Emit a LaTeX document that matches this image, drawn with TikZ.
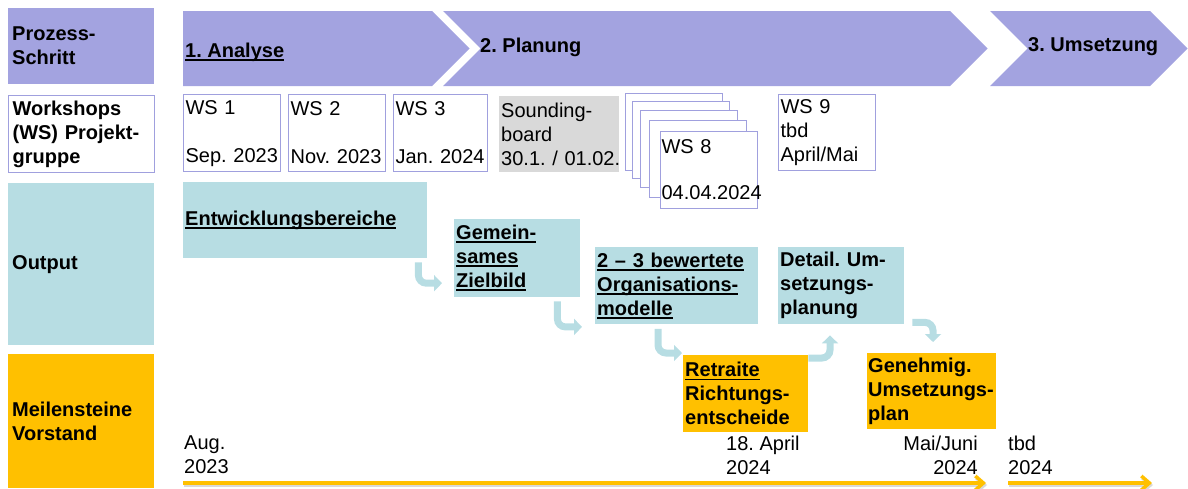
\documentclass[tikz,border=0pt]{standalone}
\usepackage{fontspec}
\setmainfont{Liberation Sans}
\usetikzlibrary{arrows.meta}
\definecolor{phase}{RGB}{163,163,224}
\definecolor{outp}{RGB}{183,221,227}
\definecolor{gold}{RGB}{255,192,0}
\definecolor{sbgray}{RGB}{217,217,217}
\definecolor{wsline}{RGB}{160,160,222}
\newcommand{\undl}[1]{\leavevmode\setbox0=\hbox{#1}\rlap{\rule[-3.5pt]{\wd0}{1.8pt}}\box0}
\frenchspacing
\begin{document}
\begin{tikzpicture}[x=1pt,y=-1pt,font=\fontsize{20}{24}\selectfont,
    conn/.style={outp,line width=7pt,rounded corners=8pt,-{Triangle[length=8pt,width=16pt]}},
    timeline/.style={gold,line width=3.5pt,-{Straight Barb[length=8pt,width=14pt]}},
    wsbox/.style={draw=wsline,line width=1.2pt,fill=white,minimum width=97pt,minimum height=77pt,text width=93pt}]

      \useasboundingbox (0,0) rectangle (1188,488);

      \begin{scope}[every node/.style={anchor=north west,inner sep=4pt,align=left,
          font=\fontsize{20}{24}\selectfont\bfseries,text width=138pt,minimum width=146pt}]
        \node[fill=phase,minimum height=76pt] (prozess) at (8,8) {Prozess-\\Schritt};
        \node[draw=wsline,line width=1.2pt,fill=white,minimum height=77pt] (workshops) at (8,95) {Workshops\\(WS) Projekt-\\gruppe};
        \node[fill=outp,minimum height=162pt] (output) at (8,183) {Output};
        \node[fill=gold,minimum height=134pt] (meilen) at (8,354) {Meilensteine\\Vorstand};
      \end{scope}

      \fill[phase] (183,11) -- (432,11) -- (469.5,48.5) -- (432,86) -- (183,86) -- cycle;
      \fill[phase] (443,11) -- (950,11) -- (987.5,48.5) -- (950,86) -- (443,86) -- (480.5,48.5) -- cycle;
      \fill[phase] (990,11) -- (1150,11) -- (1187.5,48.5) -- (1150,86) -- (990,86) -- (1027.5,48.5) -- cycle;

      \begin{scope}[every node/.style={anchor=west,inner sep=1pt,font=\fontsize{20}{24}\selectfont\bfseries}]
        \node (analyse)   at (184,52) {\undl{1. Analyse}};
        \node (planung)   at (479,47) {2. Planung};
        \node (umsetzung) at (1027,47) {3. Umsetzung};
      \end{scope}

      \begin{scope}[every node/.style={anchor=north west,inner sep=2pt,align=left}]
        \node[wsbox] (ws1) at (183,94) {WS~1\\[24pt]Sep.~2023};
        \node[wsbox,minimum width=96pt] (ws2) at (288,94) {WS~2\\[24pt]Nov.~2023};
        \node[wsbox,minimum width=94pt,text width=90pt] (ws3) at (393,94) {WS~3\\[24pt]Jan.~2024};
        \node[fill=sbgray,minimum width=120pt,minimum height=76pt,text width=116pt,inner sep=1pt] (sounding) at (499,96) {Sounding-\\board\\30.1.~/~01.02.};
        \foreach \i/\x/\y in {0/625/93,1/632/101,2/640/110,3/649/120}
          \node[wsbox,minimum width=96pt] (stack\i) at (\x,\y) {};
        \node[wsbox,inner xsep=1pt,text width=95pt] (ws8) at (660,131) {WS~8\\[22pt]04.04.2024};
        \node[wsbox,minimum width=96pt,minimum height=76pt] (ws9) at (778,94) {WS~9\\tbd\\April/Mai};
      \end{scope}

      \begin{scope}[every node/.style={anchor=north west,inner sep=2pt,align=left,
          font=\fontsize{20}{24}\selectfont\bfseries}]
        \node[fill=outp,minimum width=244pt,minimum height=76pt,text width=240pt] (entw) at (183,182) {\undl{Entwicklungsbereiche}};
        \node[fill=outp,minimum width=126pt,minimum height=78pt,text width=122pt] (ziel) at (454,219) {\undl{Gemein-}\\\undl{sames}\\\undl{Zielbild}};
        \node[fill=outp,minimum width=163pt,minimum height=77pt,text width=159pt] (orga) at (595,247) {\undl{2~--~3~bewertete}\\\undl{Organisations-}\\\undl{modelle}};
        \node[fill=outp,minimum width=126pt,minimum height=77pt,text width=122pt] (detail) at (778,247) {Detail.~Um-\\setzungs-\\planung};
        \node[fill=gold,minimum width=125pt,minimum height=77pt,text width=121pt] (retraite) at (683,355) {\undl{Retraite}\\Richtungs-\\entscheide};
        \node[fill=gold,minimum width=129pt,minimum height=76pt,text width=127pt,inner sep=1pt] (genehmig) at (867,353) {Genehmig.\\Umsetzungs-\\plan};
      \end{scope}

      \begin{scope}[every node/.style={inner sep=1pt}]
        \node[anchor=west,align=left] (aug) at (183,455) {Aug.\\2023};
        \node[anchor=west,align=left] (april) at (725,455) {18.~April\\2024};
        \node[anchor=east,align=right] (maijuni) at (979,455) {Mai/Juni\\2024};
        \node[anchor=west,align=left] (tbd) at (1007,455) {tbd\\2024};
      \end{scope}

      \draw[conn] ([xshift=-9pt,yshift=-4pt]entw.south east) |- ([xshift=-12pt,yshift=-25pt]ziel.west);
      \draw[conn] ([xshift=-23pt,yshift=-4pt]ziel.south east) |- ([xshift=-13pt,yshift=-2.5pt]orga.south west);
      \draw[conn] ([xshift=63pt,yshift=-4.5pt]orga.south west) |- ([xshift=-1pt,yshift=2pt]retraite.north west);
      \draw[conn] ([yshift=-3pt]retraite.north east) -| ([xshift=52pt,yshift=-11pt]detail.south west);
      \draw[conn] ([xshift=8pt,yshift=2pt]detail.south east) -| ([xshift=66pt,yshift=11pt]genehmig.north west);

      \coordinate (t1s) at (183,483);
      \coordinate (t1e) at (986,483);
      \coordinate (t2s) at (1008,483);
      \coordinate (t2e) at (1152,483);
      \draw[timeline,black!15] ([shift={(1,2)}]t1s) -- ([shift={(1,2)}]t1e);
      \draw[timeline,black!15] ([shift={(1,2)}]t2s) -- ([shift={(1,2)}]t2e);
      \draw[timeline] (t1s) -- (t1e);
      \draw[timeline] (t2s) -- (t2e);

    \end{tikzpicture}
\end{document}
